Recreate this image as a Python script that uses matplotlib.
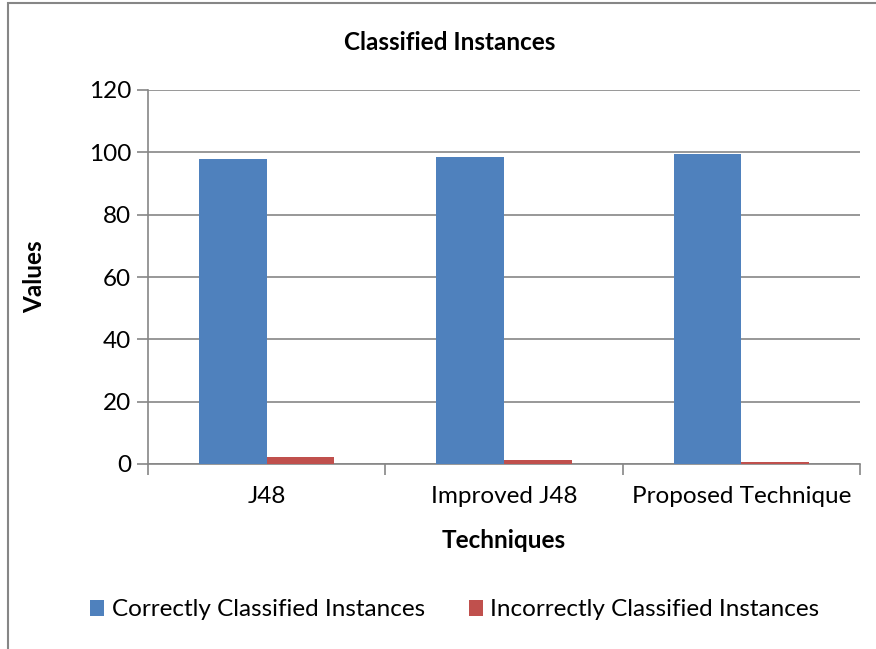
import matplotlib.pyplot as plt
import numpy as np
from matplotlib.patches import Rectangle

techniques = ["J48", "Improved J48", "Proposed Technique"]
correct = [97.8, 98.6, 99.4]
incorrect = [2.2, 1.4, 0.6]
yticks = [0, 20, 40, 60, 80, 100, 120]

plt.rcParams['font.family'] = ['Lato', 'DejaVu Sans']
grid_col = "#868686"
fs = 17.5

fig = plt.figure(figsize=(8.76, 6.49), dpi=100)
ax = fig.add_axes([148 / 876, 1 - 464 / 649, 712 / 876, 374 / 649])

# clustered bars, Excel style gap width 150%
x = np.arange(len(techniques))
w = 1 / 3.5
ax.bar(x - w / 2, correct, width=w, color="#4f81bd", label="Correctly Classified Instances", zorder=3)
ax.bar(x + w / 2, incorrect, width=w, color="#c0504d", label="Incorrectly Classified Instances", zorder=3)

ax.set_xlim(-0.5, len(techniques) - 0.5)
ax.set_ylim(0, 120)
ax.set_yticks(yticks)
ax.set_yticklabels([str(v) for v in yticks], fontsize=fs)
ax.yaxis.grid(True, color=grid_col, linewidth=1.2, zorder=0)
ax.tick_params(axis="y", length=8, width=1.2, color=grid_col, pad=4)

# category labels centred, ticks on the category boundaries
ax.set_xticks(x)
ax.set_xticklabels(techniques, fontsize=fs)
ax.tick_params(axis="x", length=0, pad=16)
ax.set_xticks(np.arange(-0.5, len(techniques)), minor=True)
ax.tick_params(axis="x", which="minor", length=8, width=1.2, color=grid_col)

for side in ["top", "right"]:
    ax.spines[side].set_visible(False)
for side in ["left", "bottom"]:
    ax.spines[side].set_color(grid_col)
    ax.spines[side].set_linewidth(1.2)

ax.set_xlabel("Techniques", fontsize=fs, fontweight="bold")
ax.xaxis.set_label_coords(0.5, (464 - 540) / 374)
ax.set_ylabel("Values", fontsize=fs, fontweight="bold")
ax.yaxis.set_label_coords((35 - 148) / 712, 0.5)
ax.xaxis.label.set_va("center")
ax.yaxis.label.set_va("center")
fig.text(0.513, 1 - 43 / 649, "Classified Instances", ha="center", va="center",
         fontsize=fs, fontweight="bold")

fig.legend(loc="center", bbox_to_anchor=(0.519, 1 - 610 / 649), ncol=2, frameon=False,
           fontsize=fs, handlelength=0.6, handleheight=0.6, handletextpad=0.3,
           columnspacing=1.8)

# chart area border
fig.patches.append(Rectangle((8 / 876, -0.2), 1.2, 1.2 - 3 / 649, transform=fig.transFigure,
                             fill=False, edgecolor=grid_col, linewidth=1.5))

fig.savefig("out.png", dpi=100)
